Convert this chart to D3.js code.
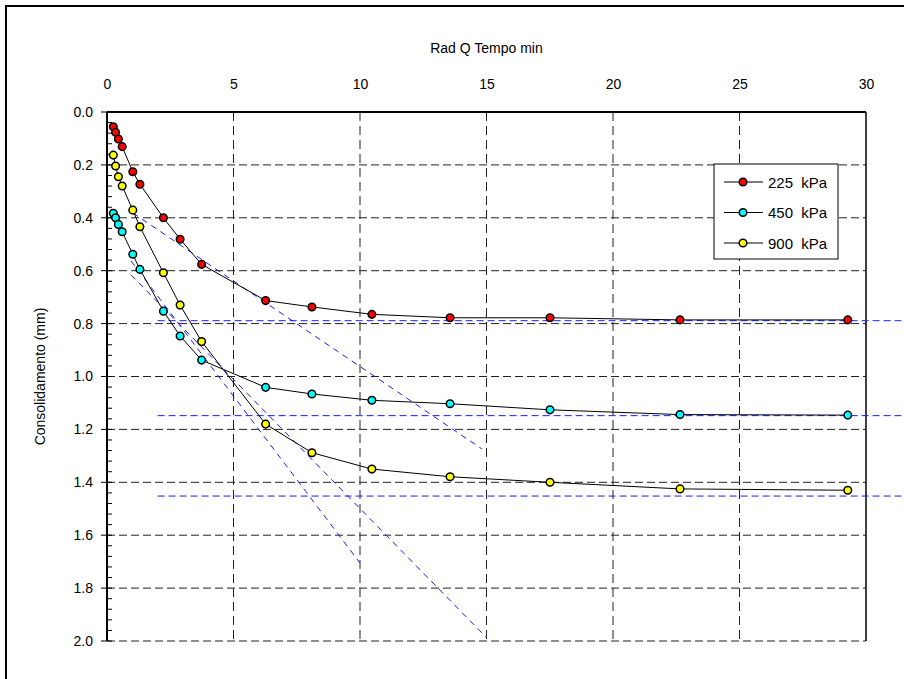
<!DOCTYPE html>
<html><head><meta charset="utf-8">
<script src="https://cdn.jsdelivr.net/npm/d3@7"></script>
<style>body{margin:0;background:#fff}svg{display:block}text{font-family:"Liberation Sans",Arial,sans-serif}</style>
</head><body>
<script>
// ---- data ----
const radTime = [0.25,0.34,0.45,0.60,1.02,1.30,2.23,2.89,3.74,6.27,8.10,10.47,13.56,17.51,22.65,29.28];
const s225 = [0.056,0.077,0.102,0.131,0.226,0.273,0.400,0.481,0.576,0.713,0.737,0.765,0.778,0.778,0.786,0.786];
const s450 = [0.383,0.400,0.425,0.453,0.538,0.595,0.753,0.847,0.938,1.041,1.066,1.090,1.103,1.126,1.144,1.146];
const s900 = [0.163,0.204,0.245,0.280,0.371,0.434,0.608,0.730,0.868,1.180,1.288,1.350,1.379,1.400,1.425,1.430];
const seriesNames = ["225  kPa","450  kPa","900  kPa"];
const seriesColors = ["#ff0000","#00ffff","#ffff00"];
const xTicks = [0,5,10,15,20,25,30];
const yTicks = [0,0.2,0.4,0.6,0.8,1.0,1.2,1.4,1.6,1.8,2.0];
// construction lines [x1,y1,x2,y2]
const constrLines = [
  [2,0.789,31.4,0.789],
  [2,1.148,31.4,1.148],
  [2,1.452,31.4,1.452],
  [1.03,0.382,14.82,1.274],
  [0.95,0.563,10.0,1.705],
  [0.95,0.616,15.02,1.989]
];

const W=904,H=679;
const svg=d3.select("body").append("svg").attr("width",W).attr("height",H);
svg.append("rect").attr("x",6).attr("y",6).attr("width",W+10).attr("height",H+10)
  .attr("fill","#fff").attr("stroke","#000").attr("stroke-width",2);

const x=d3.scaleLinear([0,30],[107,866]);
const y=d3.scaleLinear([0,2],[112,641]);

// grid
const g=svg.append("g");
g.selectAll(".vg").data(xTicks.filter(d=>d>0&&d<30)).join("line")
  .attr("x1",d=>x(d)).attr("x2",d=>x(d)).attr("y1",y(0)).attr("y2",y(2))
  .attr("stroke","#222").attr("stroke-width",1).attr("stroke-dasharray","9,5");
g.selectAll(".hg").data(yTicks.filter(d=>d>0)).join("line")
  .attr("x1",x(0)).attr("x2",x(30)).attr("y1",d=>y(d)).attr("y2",d=>y(d))
  .attr("stroke","#222").attr("stroke-width",1).attr("stroke-dasharray","8,4");

// minor ticks y
const minor=d3.range(0,2.0001,0.04).filter(v=>Math.abs(v*5-Math.round(v*5))>1e-6);
g.selectAll(".mt").data(minor).join("line")
  .attr("x1",x(0)).attr("x2",x(0)+5).attr("y1",d=>y(d)).attr("y2",d=>y(d))
  .attr("stroke","#000").attr("stroke-width",1);
g.selectAll(".Mt").data(yTicks).join("line")
  .attr("x1",x(0)-6).attr("x2",x(0)+5).attr("y1",d=>y(d)).attr("y2",d=>y(d))
  .attr("stroke","#000").attr("stroke-width",1);

// axes
const xa=svg.append("g").attr("transform",`translate(0,${y(0)})`)
  .call(d3.axisTop(x).tickValues(xTicks).tickSize(0).tickPadding(23));
xa.select(".domain").remove();
xa.selectAll("text").attr("font-size",14).attr("fill","#000");
const ya=svg.append("g").attr("transform",`translate(${x(0)},0)`)
  .call(d3.axisLeft(y).tickValues(yTicks).tickFormat(d3.format(".1f")).tickSize(6).tickPadding(8));
ya.select(".domain").remove();
ya.selectAll("line").remove();
ya.selectAll("text").attr("font-size",14).attr("fill","#000");

// frame lines
svg.append("line").attr("x1",x(0)).attr("x2",x(0)).attr("y1",y(0)).attr("y2",y(2)).attr("stroke","#000").attr("stroke-width",2);
svg.append("line").attr("x1",x(0)).attr("x2",x(30)).attr("y1",y(0)).attr("y2",y(0)).attr("stroke","#000").attr("stroke-width",2);
svg.append("line").attr("x1",x(30)).attr("x2",x(30)).attr("y1",y(0)).attr("y2",y(2)).attr("stroke","#000").attr("stroke-width",1.5);

// titles
svg.append("text").attr("x",(x(0)+x(30))/2).attr("y",53).attr("text-anchor","middle").attr("font-size",14).text("Rad Q Tempo min");
svg.append("text").attr("transform",`translate(45,${(y(0)+y(2))/2}) rotate(-90)`).attr("text-anchor","middle").attr("font-size",14).text("Consolidamento (mm)");

// construction lines
svg.append("g").selectAll("line").data(constrLines).join("line")
  .attr("x1",d=>x(d[0])).attr("y1",d=>y(d[1])).attr("x2",d=>x(d[2])).attr("y2",d=>y(d[3]))
  .attr("stroke","#1a1aff").attr("stroke-width",1)
  .attr("stroke-dasharray",d=>d[1]===d[3]?"7,4":"6,5");

// series
const allSeries=[s225,s450,s900];
const line=d3.line().x((d,i)=>x(radTime[i])).y(d=>y(d));
allSeries.forEach((s,k)=>{
  svg.append("path").datum(s).attr("d",line).attr("fill","none").attr("stroke","#000").attr("stroke-width",1);
  svg.append("g").selectAll("circle").data(s).join("circle")
    .attr("cx",(d,i)=>x(radTime[i])).attr("cy",d=>y(d)).attr("r",3.8)
    .attr("fill",seriesColors[k]).attr("stroke","#000").attr("stroke-width",1.5);
});

// legend
const lg=svg.append("g");
lg.append("rect").attr("x",714).attr("y",164).attr("width",124).attr("height",95).attr("fill","#fff").attr("stroke","#000").attr("stroke-width",1);
seriesNames.forEach((n,k)=>{
  const yy=182+k*30.5;
  lg.append("line").attr("x1",724).attr("x2",763).attr("y1",yy).attr("y2",yy).attr("stroke","#000");
  lg.append("circle").attr("cx",743).attr("cy",yy).attr("r",3.8).attr("fill",seriesColors[k]).attr("stroke","#000").attr("stroke-width",1.5);
  lg.append("text").attr("x",768).attr("y",yy+5.5).attr("font-size",15).attr("xml:space","preserve").style("white-space","pre").text(n);
});
</script>
</body></html>
